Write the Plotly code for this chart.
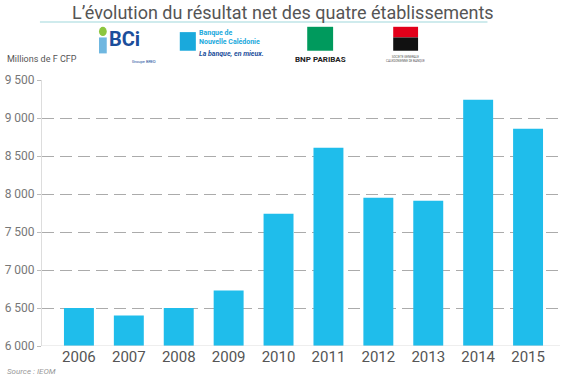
import plotly.graph_objects as go

years = ["2006", "2007", "2008", "2009", "2010", "2011", "2012", "2013", "2014", "2015"]
resultat = [6500, 6400, 6500, 6730, 7740, 8610, 7950, 7910, 9240, 8860]
ytick_vals = [6000, 6500, 7000, 7500, 8000, 8500, 9000, 9500]
ytick_text = ["6 000", "6 500", "7 000", "7 500", "8 000", "8 500", "9 000", "9 500"]

FONT = "Roboto, sans-serif"

fig = go.Figure()
fig.add_trace(go.Bar(x=years, y=resultat, marker_color="#1FBDEB", marker_line_width=0, width=0.6))

fig.update_layout(
    width=565, height=377,
    margin=dict(l=42, r=5, t=80, b=31),
    paper_bgcolor="white", plot_bgcolor="white",
    showlegend=False,
)
fig.update_xaxes(
    type="category", range=[-0.74, 9.64], automargin=False,
    showgrid=False, showline=False, ticks="",
    tickfont=dict(family=FONT, size=15, color="#555555"),
)
fig.update_yaxes(
    range=[6000, 9500], tickvals=ytick_vals, ticktext=ytick_text, automargin=False,
    showgrid=True, gridcolor="#ababab", gridwidth=1.3, griddash="12px,6px",
    showline=True, linecolor="#dddddd", linewidth=1,
    ticks="outside", ticklen=4, tickcolor="#bbbbbb",
    tickfont=dict(family=FONT, size=12, color="#777777"),
    zeroline=False,
)
# solid baseline
fig.add_shape(type="line", xref="paper", yref="y", x0=0, x1=1, y0=6000, y1=6000,
              line=dict(color="#dddddd", width=1))

# Title
fig.add_annotation(text="L’évolution du résultat net des quatre établissements",
                   xref="paper", yref="paper", x=0.465, y=1.3, xanchor="center", yanchor="top",
                   showarrow=False, font=dict(family=FONT, size=18, color="#555555"))
fig.add_shape(type="line", xref="paper", yref="paper", x0=-0.004, x1=0.86, y0=1.218, y1=1.218,
              line=dict(color="#9fd8dc", width=1.2))

fig.add_annotation(text="Millions de F CFP", xref="paper", yref="paper", x=-0.072, y=1.0,
                   xanchor="left", yanchor="bottom", yshift=14, showarrow=False,
                   font=dict(family=FONT, size=9, color="#555555"))
fig.add_annotation(text="<i>Source : IEOM</i>", xref="paper", yref="paper", x=-0.072, y=0,
                   xanchor="left", yanchor="top", yshift=-19, showarrow=False,
                   font=dict(family=FONT, size=8, color="#999999"))

# Logo approximations
# BCi
fig.add_annotation(text="<b>BCi</b>", xref="paper", yref="paper", x=0.125, y=1.205,
                   xanchor="left", yanchor="top", showarrow=False,
                   font=dict(family=FONT, size=20, color="#1b4e9b"))
fig.add_annotation(text="Groupe BRED", xref="paper", yref="paper", x=0.17, y=1.085,
                   xanchor="left", yanchor="top", showarrow=False,
                   font=dict(family=FONT, size=4, color="#1b4e9b"))
fig.add_shape(type="rect", xref="paper", yref="paper", x0=0.11, x1=0.125, y0=1.1, y1=1.16,
              fillcolor="#6fb7e0", line_width=0)
fig.add_shape(type="circle", xref="paper", yref="paper", x0=0.11, x1=0.125, y0=1.165, y1=1.2,
              fillcolor="#8cc63f", line_width=0)
# BNC
fig.add_shape(type="rect", xref="paper", yref="paper", x0=0.266, x1=0.297, y0=1.11, y1=1.18,
              fillcolor="#1aa9dc", line_width=0)
fig.add_annotation(text="<b>Banque de<br>Nouvelle Calédonie</b>", xref="paper", yref="paper",
                   x=0.3, y=1.2, xanchor="left", yanchor="top", align="left", showarrow=False,
                   font=dict(family=FONT, size=7, color="#1aa9dc"))
fig.add_annotation(text="<b><i>La banque, en mieux.</i></b>", xref="paper", yref="paper",
                   x=0.3, y=1.12, xanchor="left", yanchor="top", showarrow=False,
                   font=dict(family=FONT, size=7, color="#1b4e9b"))
# BNP
fig.add_shape(type="rect", xref="paper", yref="paper", x0=0.512, x1=0.562, y0=1.11, y1=1.2,
              fillcolor="#009a5d", line_width=0)
fig.add_annotation(text="<b>BNP PARIBAS</b>", xref="paper", yref="paper", x=0.537, y=1.1,
                   xanchor="center", yanchor="top", showarrow=False,
                   font=dict(family=FONT, size=8, color="#222222"))
# SG
fig.add_shape(type="rect", xref="paper", yref="paper", x0=0.678, x1=0.726, y0=1.16, y1=1.2,
              fillcolor="#e2001a", line_width=0)
fig.add_shape(type="rect", xref="paper", yref="paper", x0=0.678, x1=0.726, y0=1.11, y1=1.16,
              fillcolor="#111111", line_width=0)
fig.add_annotation(text="SOCIETE GENERALE<br>CALEDONIENNE DE BANQUE", xref="paper", yref="paper",
                   x=0.702, y=1.1, xanchor="center", yanchor="top", showarrow=False,
                   font=dict(family=FONT, size=3, color="#555555"))

fig.write_html("out.html", config={"displayModeBar": False},
               post_script="document.body.style.margin='0';")
